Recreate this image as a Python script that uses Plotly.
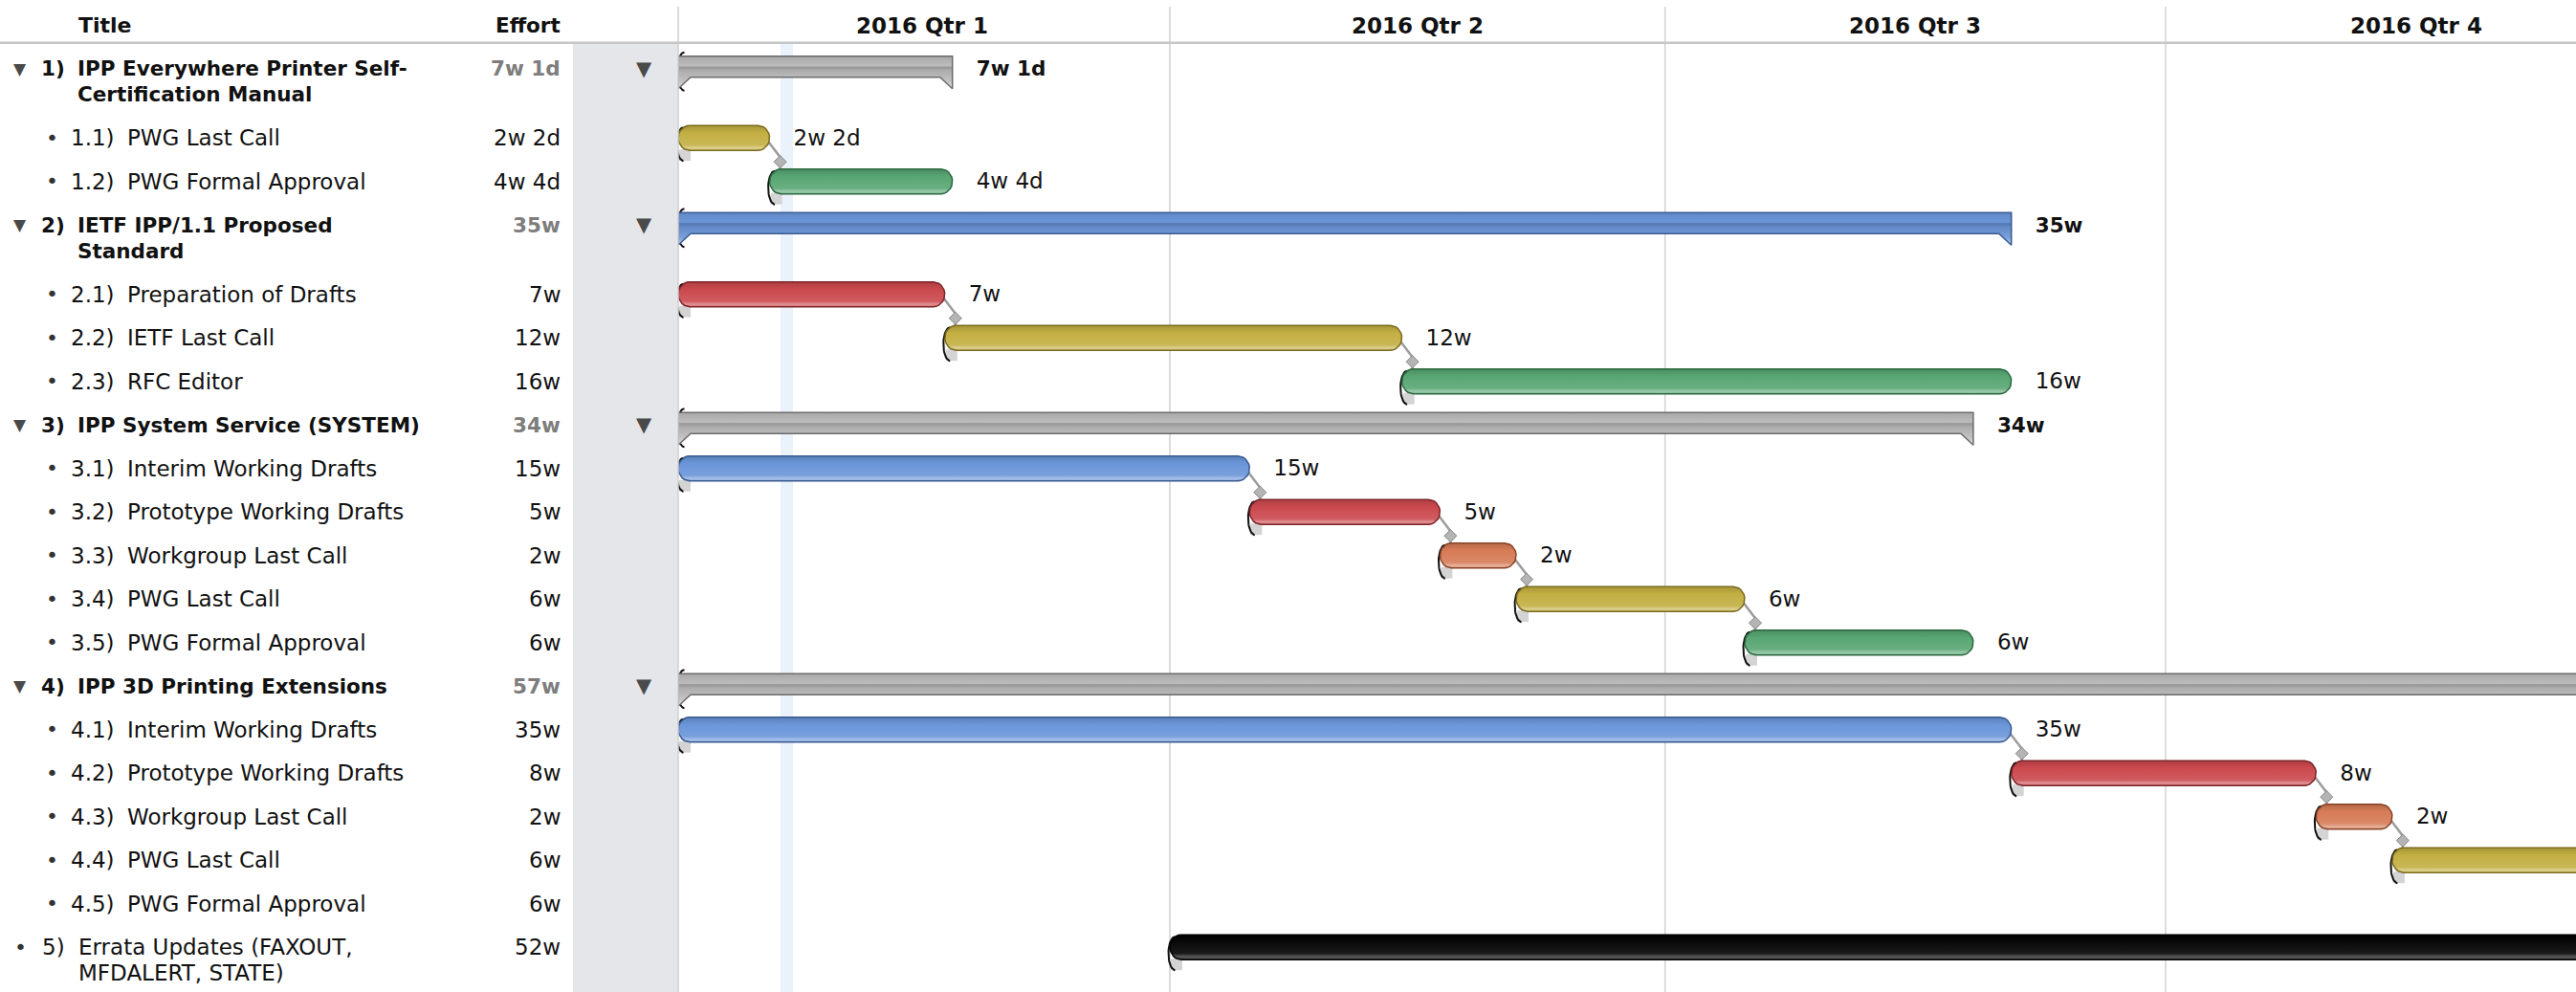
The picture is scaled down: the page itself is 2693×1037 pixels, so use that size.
import numpy as np
import pandas as pd
import plotly.graph_objects as go

# ---------------- data ----------------
outline_ids = ["1)", "1.1)", "1.2)", "2)", "2.1)", "2.2)", "2.3)",
               "3)", "3.1)", "3.2)", "3.3)", "3.4)", "3.5)",
               "4)", "4.1)", "4.2)", "4.3)", "4.4)", "4.5)", "5)"]
titles = ["IPP Everywhere Printer Self-\nCertification Manual", "PWG Last Call", "PWG Formal Approval",
          "IETF IPP/1.1 Proposed\nStandard", "Preparation of Drafts", "IETF Last Call", "RFC Editor",
          "IPP System Service (SYSTEM)", "Interim Working Drafts", "Prototype Working Drafts",
          "Workgroup Last Call", "PWG Last Call", "PWG Formal Approval",
          "IPP 3D Printing Extensions", "Interim Working Drafts", "Prototype Working Drafts",
          "Workgroup Last Call", "PWG Last Call", "PWG Formal Approval",
          "Errata Updates (FAXOUT,\nMFDALERT, STATE)"]
efforts = ["7w 1d", "2w 2d", "4w 4d", "35w", "7w", "12w", "16w", "34w", "15w", "5w", "2w", "6w", "6w",
           "57w", "35w", "8w", "2w", "6w", "6w", "52w"]
predecessors = [None, None, "1.1)", None, None, "2.1)", "2.2)", None, None, "3.1)", "3.2)", "3.3)", "3.4)",
                None, None, "4.1)", "4.2)", "4.3)", "4.4)", None]
fixed_starts = {"5)": "2016-04-01"}
bar_colors = ["gray", "gold", "green", "blue", "red", "gold", "green", "gray", "blue", "red", "orange",
              "gold", "green", "gray", "blue", "red", "orange", "gold", "green", "black"]
project_start = "2016-01-01 15:30"
quarter_bounds = ["2016-01-01", "2016-04-01", "2016-07-01", "2016-10-01", "2017-01-01"]
quarter_labels = ["2016 Qtr 1", "2016 Qtr 2", "2016 Qtr 3", "2016 Qtr 4"]
today_band = ["2016-01-20 10:30", "2016-01-22 18:00"]

# ---------------- derived ----------------
def to_weeks(d):
    return (pd.Timestamp(d) - pd.Timestamp(project_start)) / pd.Timedelta(days=7)

def effort_weeks(s):
    w = 0.0
    for part in s.split():
        if part.endswith("w"):
            w += float(part[:-1])
        elif part.endswith("d"):
            w += float(part[:-1]) / 5.0
    return w

n = len(outline_ids)
idx = {k: i for i, k in enumerate(outline_ids)}
is_group = [any(o.startswith(k[:-1] + ".") for o in outline_ids) for k in outline_ids]
level = [k.count(".") for k in outline_ids]
dur = [effort_weeks(e) for e in efforts]
start = [0.0] * n
end = [0.0] * n
for i in range(n):
    if is_group[i]:
        continue
    if predecessors[i]:
        start[i] = end[idx[predecessors[i]]]
    elif outline_ids[i] in fixed_starts:
        start[i] = to_weeks(fixed_starts[outline_ids[i]])
    end[i] = start[i] + dur[i]
for i in range(n):
    if is_group[i]:
        kids = [j for j in range(n) if outline_ids[j].startswith(outline_ids[i][:-1] + ".")]
        start[i] = min(start[j] for j in kids)
        end[i] = max(end[j] for j in kids)

# ---------------- layout constants ----------------
W, H = 2693, 1037
LEFT, TOP = 709, 46
PLOT_W, PLOT_H = W - LEFT, H - TOP
PXW = 39.82  # pixels per week
x_range = [0, PLOT_W / PXW]
ROW0, STEP, LINE = 71.7, 45.5, 27.0
FONT = "DejaVu Sans"
FS, FSB = 23, 21.5   # regular / bold text size

rows_y = []
extra = 0
for t in titles:
    rows_y.append(ROW0 + len(rows_y) * STEP + extra * LINE)
    extra += t.count("\n")

def wx(px):
    return px / PXW

def p2paper(px):
    return (px - LEFT) / PLOT_W

def mix(hexc, f):
    c = np.array([int(hexc[i:i + 2], 16) for i in (1, 3, 5)], float)
    t = np.array([255.0] * 3) if f > 0 else np.zeros(3)
    c = c + (t - c) * abs(f)
    return "#%02x%02x%02x" % tuple(int(round(v)) for v in c)

PALETTE = {
    "gold": ("#c3af42", "#7a6b1e"),
    "green": ("#58a673", "#2c683f"),
    "blue": ("#6a96d9", "#395a90"),
    "red": ("#cb494e", "#7c2427"),
    "orange": ("#d67b56", "#884328"),
    "black": ("#0e0e0e", "#000000"),
    "gray": ("#bcbcbc", "#6b6b6b"),
}

fig = go.Figure()

# ---------- start markers: shadow + "(" ----------
for i in range(n):
    s, c = start[i], rows_y[i]
    if is_group[i]:
        y0, y1, rx = c - 17, c + 23, 8
    else:
        y0, y1, rx = c - 11, c + 24, 7
        fig.add_trace(go.Scatter(
            x=[s + wx(1), s + wx(13), s + wx(13), s + wx(1), s + wx(1)],
            y=[c + 12, c + 12, c + 24, c + 24, c + 12],
            mode="lines", fill="toself", fillcolor="#d4d4d4", line=dict(width=0),
            hoverinfo="skip", showlegend=False))
    t = np.linspace(-np.pi / 2, np.pi / 2, 25)
    cx, cy, ry = s + wx(rx - 1.5), (y0 + y1) / 2, (y1 - y0) / 2
    fig.add_trace(go.Scatter(
        x=cx - wx(rx) * np.cos(t), y=cy + ry * np.sin(t), mode="lines",
        line=dict(color="#111111", width=2), hoverinfo="skip", showlegend=False))

# ---------- dependency connectors ----------
for i in range(n):
    if predecessors[i]:
        p = idx[predecessors[i]]
        xe, cp, cn = end[p], rows_y[p], rows_y[i]
        fig.add_trace(go.Scatter(
            x=[xe - wx(2), xe + wx(11), xe + wx(11)],
            y=[cp + 3, cp + 20, cn - 12],
            mode="lines", line=dict(color="#9c9c9c", width=2.5),
            hoverinfo="skip", showlegend=False))
        fig.add_trace(go.Scatter(
            x=[xe + wx(11)], y=[cp + 25], mode="markers",
            marker=dict(symbol="diamond", size=10, color="#b4b4b4",
                        line=dict(color="#858585", width=1)),
            hoverinfo="skip", showlegend=False))

# ---------- bars ----------
def pill(x0, x1, yc, h=13, r=12, k=14):
    rx = wx(r)
    t1 = np.linspace(-np.pi / 2, np.pi / 2, k)
    t2 = np.linspace(np.pi / 2, 3 * np.pi / 2, k)
    xs = list(x1 - rx + rx * np.cos(t1)) + list(x0 + rx + rx * np.cos(t2))
    ys = list(yc + h * np.sin(t1)) + list(yc + h * np.sin(t2))
    return xs + [xs[0]], ys + [ys[0]]

def bracket(x0, x1, yc, top=13, bot=9, tip=21, tw=13):
    xs = [x0, x1, x1, x1 - wx(tw), x0 + wx(tw), x0, x0]
    ys = [yc - top, yc - top, yc + tip, yc + bot, yc + bot, yc + tip, yc - top]
    return xs, ys

for i in range(n):
    base, edge = PALETTE[bar_colors[i]]
    c = rows_y[i]
    if is_group[i]:
        xs, ys = bracket(start[i], end[i], c)
        scale = [[0, mix(base, 0.25)], [0.08, mix(base, 0.45)], [0.2, mix(base, 0.12)],
                 [0.55, mix(base, -0.08)], [0.66, mix(base, -0.2)], [0.7, base], [1, mix(base, -0.1)]]
    else:
        xs, ys = pill(start[i], end[i], c)
        if bar_colors[i] == "black":
            scale = [[0, "#3a3a3a"], [0.12, "#5a5a5a"], [0.25, "#1a1a1a"], [1, "#000000"]]
        else:
            scale = [[0, mix(base, 0.2)], [0.1, mix(base, 0.4)], [0.22, mix(base, 0.1)],
                     [0.7, base], [1, mix(base, -0.15)]]
    fig.add_trace(go.Scatter(
        x=xs, y=ys, mode="lines", fill="toself",
        fillgradient=dict(type="vertical", colorscale=scale),
        line=dict(color=edge, width=1.5),
        name=titles[i].replace("\n", " "), hoverinfo="name", showlegend=False))

# ---------- duration labels (only those whose bar ends inside the view) ----------
LABEL_PAD = 25
for grp in (False, True):
    sel = [i for i in range(n) if is_group[i] == grp and end[i] + wx(LABEL_PAD + 60) < x_range[1]]
    fig.add_trace(go.Scatter(
        x=[end[i] + wx(LABEL_PAD) for i in sel], y=[rows_y[i] + 2 for i in sel],
        text=[efforts[i] for i in sel], mode="text", textposition="middle right",
        textfont=dict(family=FONT, size=FSB if grp else FS, color="#111111",
                      weight="bold" if grp else "normal"),
        hoverinfo="skip", showlegend=False, cliponaxis=True))

# ---------- shapes ----------
shapes = []
shapes.append(dict(type="rect", xref="paper", yref="paper", x0=p2paper(599), x1=0, y0=0, y1=1,
                   fillcolor="#e5e6e9", line_width=0, layer="below"))
shapes.append(dict(type="rect", xref="x", yref="paper", x0=to_weeks(today_band[0]),
                   x1=to_weeks(today_band[1]), y0=0, y1=1, fillcolor="#eaf2fc", line_width=0,
                   layer="below"))
qw = [to_weeks(q) for q in quarter_bounds]
for q in qw[1:]:
    if q < x_range[1]:
        shapes.append(dict(type="line", xref="x", yref="paper", x0=q, x1=q, y0=0,
                           y1=1 + (TOP - 7) / PLOT_H, line=dict(color="#d2d2d2", width=1.5),
                           layer="below"))
shapes.append(dict(type="line", xref="paper", yref="paper", x0=0, x1=0, y0=0,
                   y1=1 + (TOP - 7) / PLOT_H, line=dict(color="#cfcfcf", width=1.5)))
shapes.append(dict(type="line", xref="paper", yref="paper", x0=-LEFT / PLOT_W, x1=1,
                   y0=1 + 1.2 / PLOT_H, y1=1 + 1.2 / PLOT_H, line=dict(color="#c6c6c6", width=2.5)))

# ---------- annotations (outline table + header) ----------
ann = []
def txt(px, y, text, anchor="left", size=FS, bold=False, color="#111111", yref="y"):
    ann.append(dict(xref="paper", x=p2paper(px), yref=yref, y=y, text=text, showarrow=False,
                    xanchor=anchor, yanchor="middle",
                    font=dict(family=FONT, size=size, color=color,
                              weight="bold" if bold else "normal")))

HDR_Y = 1 + (TOP - 27) / PLOT_H
txt(80, HDR_Y, "Title", size=22, bold=True, yref="paper")
txt(588, HDR_Y, "Effort", anchor="right", size=21.5, bold=True, yref="paper")
for k, lab in enumerate(quarter_labels):
    mid = (max(qw[k], 0) + qw[k + 1]) / 2 if k else (qw[k] + qw[k + 1]) / 2
    ann.append(dict(xref="x", x=mid, yref="paper", y=HDR_Y, text=lab, showarrow=False,
                    xanchor="center", yanchor="middle",
                    font=dict(family=FONT, size=23, color="#111111", weight="bold")))

for i in range(n):
    c = rows_y[i]
    lines = titles[i].split("\n")
    if is_group[i]:
        txt(21, c, "▼", anchor="center", size=17, color="#4a4a4a")
        txt(673, c, "▼", anchor="center", size=21, color="#4a4a4a")
        txt(41, c, outline_ids[i], size=FSB, bold=True)
        tx, bold, fs = 79, True, FSB
        txt(588, c, efforts[i], anchor="right", size=FSB, bold=True, color="#7d7d7d")
    elif level[i] == 0:
        txt(21.5, c, "•", anchor="center", size=22, color="#333333")
        txt(42, c, outline_ids[i])
        tx, bold, fs = 80, False, FS
        txt(588, c, efforts[i], anchor="right")
    else:
        txt(54, c, "•", anchor="center", size=22, color="#333333")
        txt(72, c, outline_ids[i])
        tx, bold, fs = 131, False, FS
        txt(588, c, efforts[i], anchor="right")
    for k, ln in enumerate(lines):
        txt(tx, c + k * LINE, ln, size=fs, bold=bold)

fig.update_layout(
    width=W, height=H, margin=dict(l=LEFT, r=0, t=TOP, b=0, pad=0),
    paper_bgcolor="white", plot_bgcolor="white",
    font=dict(family=FONT, size=FS, color="#111111"),
    xaxis=dict(range=x_range, showgrid=False, zeroline=False, showticklabels=False,
               showline=False, ticks="", fixedrange=True),
    yaxis=dict(range=[H, TOP], showgrid=False, zeroline=False, visible=False, fixedrange=True),
    shapes=shapes, annotations=ann, showlegend=False,
)

fig.write_html("out.html", config={"displayModeBar": False},
               post_script="document.body.style.margin='0';document.body.style.overflow='hidden';")
